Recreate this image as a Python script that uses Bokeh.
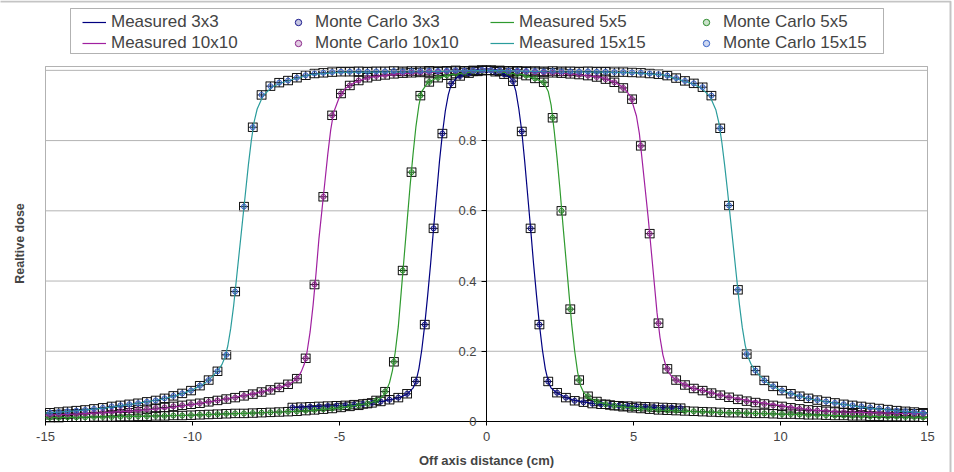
import numpy as np
from bokeh.plotting import figure
from bokeh.models import (ColumnDataSource, Whisker, TeeHead, Legend, LegendItem, LinearAxis,
                          FixedTicker, Range1d, Label, BoxAnnotation)
from bokeh.embed import file_html
from bokeh.resources import INLINE

FONT = "Liberation Sans"

# ---- axis ticks -----------------------------------------------------------
x_ticks = [-15, -10, -5, 0, 5, 10, 15]
x_tick_labels = ["-15", "-10", "-5", "0", "5", "10", "15"]
y_ticks = [0, 0.2, 0.4, 0.6, 0.8]
y_tick_labels = ["0", "0.2", "0.4", "0.6", "0.8"]
y_grid = [0.2, 0.4, 0.6, 0.8, 1.0]

# ---- Monte Carlo sampling positions (cm) ----------------------------------
mc3_x = [-6.6, -6.3, -6.0, -5.7, -5.4, -5.1, -4.8, -4.5, -4.2, -3.9, -3.6, -3.3, -3.0, -2.7, -2.4,
         -2.1, -1.8, -1.5, -1.2, -0.9, -0.6, -0.3, 0.0, 0.3, 0.6, 0.9, 1.2, 1.5, 1.8, 2.1,
         2.4, 2.7, 3.0, 3.3, 3.6, 3.9, 4.2, 4.5, 4.8, 5.1, 5.4, 5.7, 6.0, 6.3, 6.6]
mc_x = [-14.85, -14.55, -14.25, -13.95, -13.65, -13.35, -13.05, -12.75, -12.45, -12.15,
        -11.85, -11.55, -11.25, -10.95, -10.65, -10.35, -10.05, -9.75, -9.45, -9.15,
        -8.85, -8.55, -8.25, -7.95, -7.65, -7.35, -7.05, -6.75, -6.45, -6.15,
        -5.85, -5.55, -5.25, -4.95, -4.65, -4.35, -4.05, -3.75, -3.45, -3.15,
        -2.85, -2.55, -2.25, -1.95, -1.65, -1.35, -1.05, -0.75, -0.45, -0.15,
        0.15, 0.45, 0.75, 1.05, 1.35, 1.65, 1.95, 2.25, 2.55, 2.85,
        3.15, 3.45, 3.75, 4.05, 4.35, 4.65, 4.95, 5.25, 5.55, 5.85,
        6.15, 6.45, 6.75, 7.05, 7.35, 7.65, 7.95, 8.25, 8.55, 8.85,
        9.15, 9.45, 9.75, 10.05, 10.35, 10.65, 10.95, 11.25, 11.55, 11.85,
        12.15, 12.45, 12.75, 13.05, 13.35, 13.65, 13.95, 14.25, 14.55, 14.85]

# ---- Monte Carlo relative dose ---------------------------------------------
mc3_y = [0.040, 0.041, 0.042, 0.043, 0.044, 0.045, 0.046, 0.048, 0.050, 0.053, 0.057, 0.062,
         0.068, 0.079, 0.114, 0.276, 0.550, 0.820, 0.963, 0.984, 0.992, 0.997, 1.000, 0.996,
         0.989, 0.969, 0.826, 0.550, 0.276, 0.114, 0.082, 0.068, 0.059, 0.055, 0.051, 0.049,
         0.047, 0.045, 0.044, 0.043, 0.042, 0.041, 0.040, 0.039, 0.038]
mc5_y = [0.011, 0.011, 0.012, 0.012, 0.012, 0.013, 0.013, 0.013, 0.014, 0.014,
         0.015, 0.015, 0.016, 0.016, 0.017, 0.017, 0.018, 0.019, 0.020, 0.021,
         0.022, 0.023, 0.023, 0.024, 0.025, 0.026, 0.027, 0.028, 0.029, 0.031,
         0.033, 0.035, 0.037, 0.040, 0.043, 0.046, 0.051, 0.060, 0.085, 0.170,
         0.430, 0.710, 0.928, 0.967, 0.979, 0.986, 0.991, 0.994, 0.997, 0.999,
         1.000, 0.997, 0.994, 0.990, 0.985, 0.977, 0.966, 0.865, 0.600, 0.320,
         0.118, 0.072, 0.057, 0.049, 0.045, 0.042, 0.039, 0.037, 0.035, 0.033,
         0.032, 0.031, 0.030, 0.029, 0.028, 0.027, 0.026, 0.025, 0.025, 0.024,
         0.023, 0.023, 0.022, 0.021, 0.021, 0.020, 0.019, 0.019, 0.018, 0.017,
         0.017, 0.016, 0.016, 0.015, 0.015, 0.014, 0.014, 0.013, 0.013, 0.012]
mc10_y = [0.019, 0.020, 0.021, 0.022, 0.023, 0.025, 0.026, 0.028, 0.030, 0.031,
          0.033, 0.035, 0.038, 0.040, 0.043, 0.046, 0.049, 0.052, 0.056, 0.060,
          0.064, 0.068, 0.073, 0.078, 0.084, 0.090, 0.097, 0.106, 0.122, 0.180,
          0.390, 0.640, 0.872, 0.934, 0.957, 0.971, 0.979, 0.984, 0.987, 0.990,
          0.992, 0.993, 0.994, 0.995, 0.996, 0.997, 0.998, 0.998, 0.999, 1.000,
          1.000, 0.999, 0.998, 0.997, 0.996, 0.995, 0.994, 0.993, 0.992, 0.990,
          0.988, 0.985, 0.981, 0.975, 0.966, 0.950, 0.918, 0.785, 0.535, 0.280,
          0.150, 0.118, 0.104, 0.094, 0.088, 0.081, 0.075, 0.069, 0.063, 0.058,
          0.054, 0.050, 0.046, 0.043, 0.039, 0.036, 0.033, 0.031, 0.029, 0.027,
          0.026, 0.025, 0.025, 0.024, 0.024, 0.023, 0.023, 0.023, 0.022, 0.022]
mc15_y = [0.025, 0.027, 0.029, 0.031, 0.033, 0.036, 0.039, 0.043, 0.046, 0.049,
          0.052, 0.056, 0.060, 0.066, 0.073, 0.080, 0.088, 0.102, 0.118, 0.143,
          0.190, 0.370, 0.612, 0.838, 0.930, 0.955, 0.965, 0.971, 0.979, 0.986,
          0.991, 0.993, 0.995, 0.996, 0.996, 0.997, 0.996, 0.997, 0.997, 0.998,
          0.997, 0.998, 0.998, 0.999, 0.998, 0.999, 1.000, 0.999, 1.000, 1.001,
          1.000, 1.000, 0.999, 0.999, 0.998, 0.998, 0.997, 0.998, 0.997, 0.997,
          0.996, 0.997, 0.996, 0.996, 0.995, 0.995, 0.994, 0.993, 0.991, 0.989,
          0.985, 0.978, 0.970, 0.963, 0.952, 0.928, 0.835, 0.615, 0.375, 0.192,
          0.145, 0.117, 0.100, 0.088, 0.079, 0.072, 0.066, 0.061, 0.057, 0.053,
          0.049, 0.046, 0.043, 0.040, 0.037, 0.034, 0.031, 0.029, 0.027, 0.025]

# ---- measured profiles -------------------------------------------------------
meas3_x = [-6.6, -6.0, -5.0, -4.5, -4.0, -3.5, -3.0, -2.7, -2.5, -2.4, -2.3, -2.2, -2.1, -2.0,
           -1.9, -1.8, -1.7, -1.6, -1.5, -1.4, -1.3, -1.2, -1.0, -0.7, -0.3, 0.0, 0.3, 0.6,
           0.8, 0.9, 1.0, 1.1, 1.2, 1.3, 1.4, 1.5, 1.6, 1.7, 1.8, 1.9, 2.0, 2.1, 2.2, 2.4,
           2.7, 3.0, 3.5, 4.0, 5.0, 6.0, 6.6]
meas3_y = [0.040, 0.042, 0.045, 0.048, 0.052, 0.058, 0.067, 0.078, 0.095, 0.114, 0.150, 0.205,
           0.276, 0.360, 0.450, 0.550, 0.645, 0.740, 0.820, 0.885, 0.930, 0.960, 0.980, 0.990,
           0.997, 1.000, 0.997, 0.990, 0.980, 0.969, 0.940, 0.890, 0.826, 0.740, 0.645, 0.550,
           0.450, 0.360, 0.276, 0.205, 0.150, 0.114, 0.095, 0.081, 0.068, 0.060, 0.053, 0.048,
           0.043, 0.039, 0.037]

meas5_x = [-15, -13, -11, -10, -9, -8, -7, -6, -5, -4.5, -4.0, -3.7, -3.5, -3.4, -3.3, -3.2,
           -3.1, -3.0, -2.9, -2.8, -2.7, -2.6, -2.5, -2.4, -2.3, -2.2, -2.0, -1.7, -1.2, -0.5,
           0.0, 0.5, 1.2, 1.7, 1.95, 2.1, 2.2, 2.3, 2.4, 2.5, 2.6, 2.7, 2.8, 2.9, 3.0, 3.1,
           3.2, 3.3, 3.5, 3.8, 4.2, 5, 6, 7, 8, 9, 10, 12, 14, 15]
meas5_y = [0.011, 0.013, 0.016, 0.018, 0.021, 0.024, 0.027, 0.031, 0.039, 0.045, 0.052, 0.060,
           0.075, 0.090, 0.110, 0.145, 0.200, 0.270, 0.370, 0.470, 0.570, 0.670, 0.760, 0.840,
           0.900, 0.940, 0.965, 0.978, 0.988, 0.995, 1.000, 0.995, 0.988, 0.975, 0.965, 0.940,
           0.900, 0.830, 0.750, 0.660, 0.560, 0.465, 0.370, 0.275, 0.200, 0.140, 0.102, 0.083,
           0.066, 0.055, 0.047, 0.038, 0.032, 0.028, 0.025, 0.023, 0.021, 0.017, 0.013, 0.012]

meas10_x = [-15, -14, -13, -12, -11, -10, -9, -8, -7.5, -7, -6.7, -6.5, -6.4, -6.3, -6.2,
            -6.1, -6.0, -5.9, -5.8, -5.7, -5.6, -5.5, -5.4, -5.3, -5.2, -5.0, -4.8, -4.5,
            -4.0, -3.0, -2.0, 0.0, 2.0, 3.0, 3.9, 4.4, 4.7, 4.9, 5.1, 5.2, 5.3, 5.4, 5.5,
            5.6, 5.7, 5.8, 5.9, 6.0, 6.1, 6.2, 6.3, 6.5, 7, 7.5, 8, 9, 10, 11, 12, 13, 14, 15]
meas10_y = [0.018, 0.021, 0.025, 0.030, 0.037, 0.048, 0.062, 0.078, 0.087, 0.098, 0.107, 0.118,
            0.127, 0.142, 0.163, 0.200, 0.255, 0.330, 0.420, 0.520, 0.600, 0.680, 0.760, 0.830,
            0.880, 0.925, 0.948, 0.965, 0.980, 0.990, 0.994, 1.000, 0.994, 0.989, 0.980, 0.965,
            0.948, 0.925, 0.870, 0.820, 0.740, 0.660, 0.580, 0.490, 0.400, 0.310, 0.240, 0.190,
            0.158, 0.140, 0.128, 0.115, 0.095, 0.085, 0.074, 0.058, 0.045, 0.033, 0.027, 0.025,
            0.023, 0.022]

meas15_x = [-15, -14, -13, -12, -11, -10.5, -10, -9.6, -9.3, -9.1, -9.0, -8.9, -8.8, -8.7,
            -8.6, -8.5, -8.4, -8.3, -8.2, -8.1, -8.0, -7.9, -7.8, -7.6, -7.3, -7.0, -6.5, -6.0,
            -5.0, -4.0, -2.0, 0.0, 2.0, 4.0, 5.0, 6.0, 6.5, 7.0, 7.3, 7.6, 7.8, 7.9, 8.0, 8.1,
            8.2, 8.3, 8.4, 8.5, 8.6, 8.7, 8.8, 8.9, 9.0, 9.1, 9.3, 9.6, 10, 10.5, 11, 12, 13,
            14, 15]
meas15_y = [0.024, 0.030, 0.038, 0.050, 0.064, 0.075, 0.090, 0.108, 0.130, 0.150, 0.162, 0.182,
            0.215, 0.265, 0.330, 0.410, 0.490, 0.570, 0.650, 0.730, 0.800, 0.855, 0.890, 0.928,
            0.952, 0.964, 0.976, 0.988, 0.994, 0.995, 0.996, 1.000, 0.996, 0.995, 0.993, 0.987,
            0.975, 0.962, 0.950, 0.926, 0.888, 0.852, 0.798, 0.730, 0.655, 0.575, 0.495, 0.415,
            0.335, 0.268, 0.217, 0.183, 0.163, 0.150, 0.130, 0.107, 0.089, 0.076, 0.064, 0.050,
            0.038, 0.030, 0.024]

series = [
    ("3x3", meas3_x, meas3_y, mc3_x, mc3_y, "#000080", "#1a1a8c"),
    ("5x5", meas5_x, meas5_y, mc_x, mc5_y, "#2e9a2e", "#2e8b2e"),
    ("10x10", meas10_x, meas10_y, mc_x, mc10_y, "#a020a0", "#8b2a8b"),
    ("15x15", meas15_x, meas15_y, mc_x, mc15_y, "#2a9c9c", "#3a64c8"),
]

# error bar half-widths of the Monte Carlo points
X_ERR = 0.15
Y_ERR = 0.012

# ---- page geometry (pixels) --------------------------------------------------
W, H = 954, 472
PLOT_L, PLOT_R, PLOT_T, PLOT_B = 45, 927, 66, 421
X_MIN, X_MAX = -15, 15
Y_MIN, Y_MAX = 0, 1.011
KX = (PLOT_R - PLOT_L) / (X_MAX - X_MIN)
KY = (PLOT_B - PLOT_T) / (Y_MAX - Y_MIN)


def px_x(px):
    return X_MIN + (px - PLOT_L) / KX


def px_y(py):
    return Y_MIN + (PLOT_B - py) / KY


# the frame covers the whole canvas; the plot area is drawn inside it
p = figure(width=W, height=H, output_backend="svg", toolbar_location=None, title=None,
           x_range=Range1d(px_x(0), px_x(W)), y_range=Range1d(px_y(H), px_y(0)),
           x_axis_type=None, y_axis_type=None,
           min_border_left=0, min_border_right=0, min_border_top=0, min_border_bottom=0,
           background_fill_color="white", border_fill_color="white",
           outline_line_color=None)

# horizontal gridlines across the plot area
p.segment(x0=[X_MIN] * len(y_grid), x1=[X_MAX] * len(y_grid), y0=y_grid, y1=y_grid,
          line_color="#b4b4b4", line_width=1)

# plot area border
p.add_layout(BoxAnnotation(left=X_MIN, right=X_MAX, bottom=Y_MIN, top=Y_MAX,
                           fill_color=None, line_color="black", line_width=1, level="underlay"))

xaxis = LinearAxis(ticker=FixedTicker(ticks=x_ticks, minor_ticks=[]),
                   major_label_overrides=dict(zip(x_ticks, x_tick_labels)),
                   fixed_location=0, bounds=(X_MIN, X_MAX),
                   major_label_text_font=FONT, major_label_text_font_size="13px",
                   major_label_standoff=6, major_tick_in=0, major_tick_out=4,
                   minor_tick_out=0, minor_tick_in=0,
                   axis_line_color="black", major_tick_line_color="black")
p.add_layout(xaxis, "below")

yaxis = LinearAxis(ticker=FixedTicker(ticks=y_ticks, minor_ticks=[]),
                   major_label_overrides=dict(zip(y_ticks, y_tick_labels)),
                   fixed_location=0, bounds=(Y_MIN, Y_MAX),
                   major_label_text_font=FONT, major_label_text_font_size="13px",
                   major_label_standoff=5, major_tick_in=0, major_tick_out=5,
                   minor_tick_out=0, minor_tick_in=0,
                   axis_line_color="black", major_tick_line_color="black")
p.add_layout(yaxis, "left")

# axis titles
p.add_layout(Label(x=px_x(486), y=px_y(460), text="Off axis distance (cm)",
                   text_align="center", text_baseline="middle",
                   text_font=FONT, text_font_size="13px", text_font_style="bold"))
p.add_layout(Label(x=px_x(19), y=px_y(243), text="Realtive dose",
                   angle=np.pi / 2, text_align="center", text_baseline="middle",
                   text_font=FONT, text_font_size="12.5px", text_font_style="bold"))

items = {}
for name, mx, my, cx, cy, lcol, mcol in series:
    r_line = p.line(mx, my, line_color=lcol, line_width=1.2)
    cx_a = np.array(cx)
    cy_a = np.array(cy)
    src = ColumnDataSource(dict(x=cx_a, y=cy_a, xl=cx_a - X_ERR, xh=cx_a + X_ERR,
                                yl=cy_a - Y_ERR, yh=cy_a + Y_ERR))
    r_pts = p.scatter("x", "y", source=src, marker="circle", size=5,
                      line_color=mcol, fill_color=mcol, fill_alpha=0.25, line_width=1)
    for dim, base, lo, hi in (("width", "y", "xl", "xh"), ("height", "x", "yl", "yh")):
        p.add_layout(Whisker(source=src, base=base, lower=lo, upper=hi, dimension=dim,
                             line_color="#111111", line_width=1,
                             lower_head=TeeHead(size=9, line_color="#111111", line_width=1),
                             upper_head=TeeHead(size=9, line_color="#111111", line_width=1)))
    items[name] = (LegendItem(label="Measured " + name, renderers=[r_line]),
                   LegendItem(label="Monte Carlo " + name, renderers=[r_pts]))

# legend: white box with two rows of four entries
p.add_layout(BoxAnnotation(left=px_x(70), right=px_x(883), top=px_y(8), bottom=px_y(53),
                           fill_color="white", fill_alpha=1, line_color="black", line_width=1))
legend_style = dict(orientation="horizontal", spacing=25, label_width=150, glyph_width=24,
                    glyph_height=16, label_height=16, label_standoff=5, padding=0, margin=0,
                    border_line_alpha=0, background_fill_alpha=0,
                    label_text_font=FONT, label_text_font_size="17px")
row1 = Legend(items=[*items["3x3"], *items["5x5"]], location=(82, H - 32), **legend_style)
row2 = Legend(items=[*items["10x10"], *items["15x15"]], location=(82, H - 53), **legend_style)
p.add_layout(row1)
p.add_layout(row2)

# chart area border
p.add_layout(BoxAnnotation(left=px_x(-5), right=px_x(950), top=px_y(1), bottom=px_y(480),
                           fill_color=None, line_color="#3c3c3c", line_width=2))

open("out.html", "w").write(file_html(p, INLINE))
